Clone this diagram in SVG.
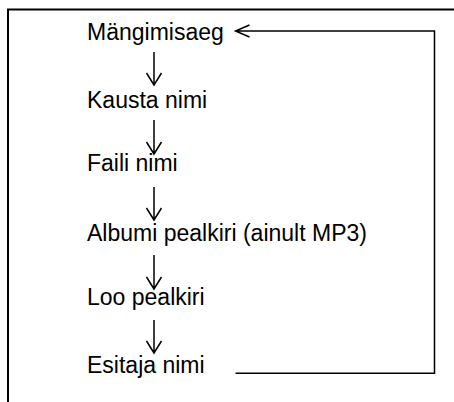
<svg xmlns="http://www.w3.org/2000/svg" width="454" height="402" viewBox="0 0 454 402">
<style>
text{font-family:"Liberation Sans",Arial,sans-serif;font-size:23px;fill:#000}
.ln{fill:none;stroke:#000;stroke-width:1.5}
.fr{fill:none;stroke:#000;stroke-width:2}
</style>
<rect width="454" height="402" fill="#fff"/>
<path class="fr" d="M8 402 V9.5 H454"/>
<g id="n1"><text x="87" y="40">Mängimisaeg</text></g>
<g id="n2"><text x="87" y="108">Kausta nimi</text></g>
<g id="n3"><text x="87" y="171">Faili nimi</text></g>
<g id="n4"><text x="87" y="241">Albumi pealkiri (ainult MP3)</text></g>
<g id="n5"><text x="87" y="305">Loo pealkiri</text></g>
<g id="n6"><text x="87" y="373">Esitaja nimi</text></g>
<g id="connectors">
<path class="ln" d="M154 52 V85 M146.5 73 L154 85 L161.5 73"/>
<path class="ln" d="M154 120 V154 M146.5 142 L154 154 L161.5 142"/>
<path class="ln" d="M154 187 V220 M146.5 208 L154 220 L161.5 208"/>
<path class="ln" d="M154 255 V289 M146.5 277 L154 289 L161.5 277"/>
<path class="ln" d="M154 320 V353 M146.5 341 L154 353 L161.5 341"/>
<path class="ln" d="M235.5 373.3 H434.5 V31 H235.5 M249.5 25 L235.5 31 L249.5 37"/>
</g>
</svg>
